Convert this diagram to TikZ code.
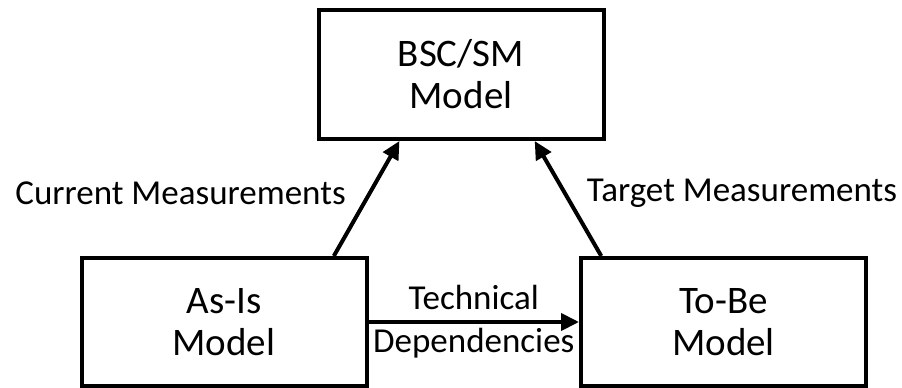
\documentclass[tikz,border=0pt]{standalone}
\usepackage{fontspec}
\setmainfont{Carlito}
\usetikzlibrary{arrows.meta,positioning,calc}

\tikzset{
  modelbox/.style={draw,line width=4pt,minimum width=285pt,minimum height=128pt,
    align=center,font=\fontsize{39}{42}\selectfont},
  flow/.style={line width=4pt,-{Triangle[length=18pt,width=17pt]}},
  lbl/.style={font=\fontsize{35}{42}\selectfont,inner sep=0pt}
}

\begin{document}
\begin{tikzpicture}[x=1pt,y=-1pt]
\useasboundingbox (0,0) rectangle (902,388);
\node[modelbox,minimum height=129pt] (bsc) at (461,74.5) {BSC/SM\\Model};
\node[modelbox] (asis) at (224,322) {As-Is\\Model};
\node[modelbox] (tobe) at (723.5,322) {To-Be\\Model};
\draw[flow] ($(asis.north west)!0.88!(asis.north east)$) -- ($(bsc.south west)!0.287!(bsc.south east)$);
\draw[flow] ($(tobe.north west)!0.077!(tobe.north east)$) -- ($(bsc.south west)!0.755!(bsc.south east)$);
\draw[flow] (asis) -- (tobe)
  node[lbl,midway,above=10pt] (tech) {Technical}
  node[lbl,midway,below=4pt] (dep) {Dependencies};
\node[lbl] (cur) at (180.5,193) {Current Measurements};
\node[lbl] (tgt) at (742,193) {Target Measurements};
\end{tikzpicture}
\end{document}
